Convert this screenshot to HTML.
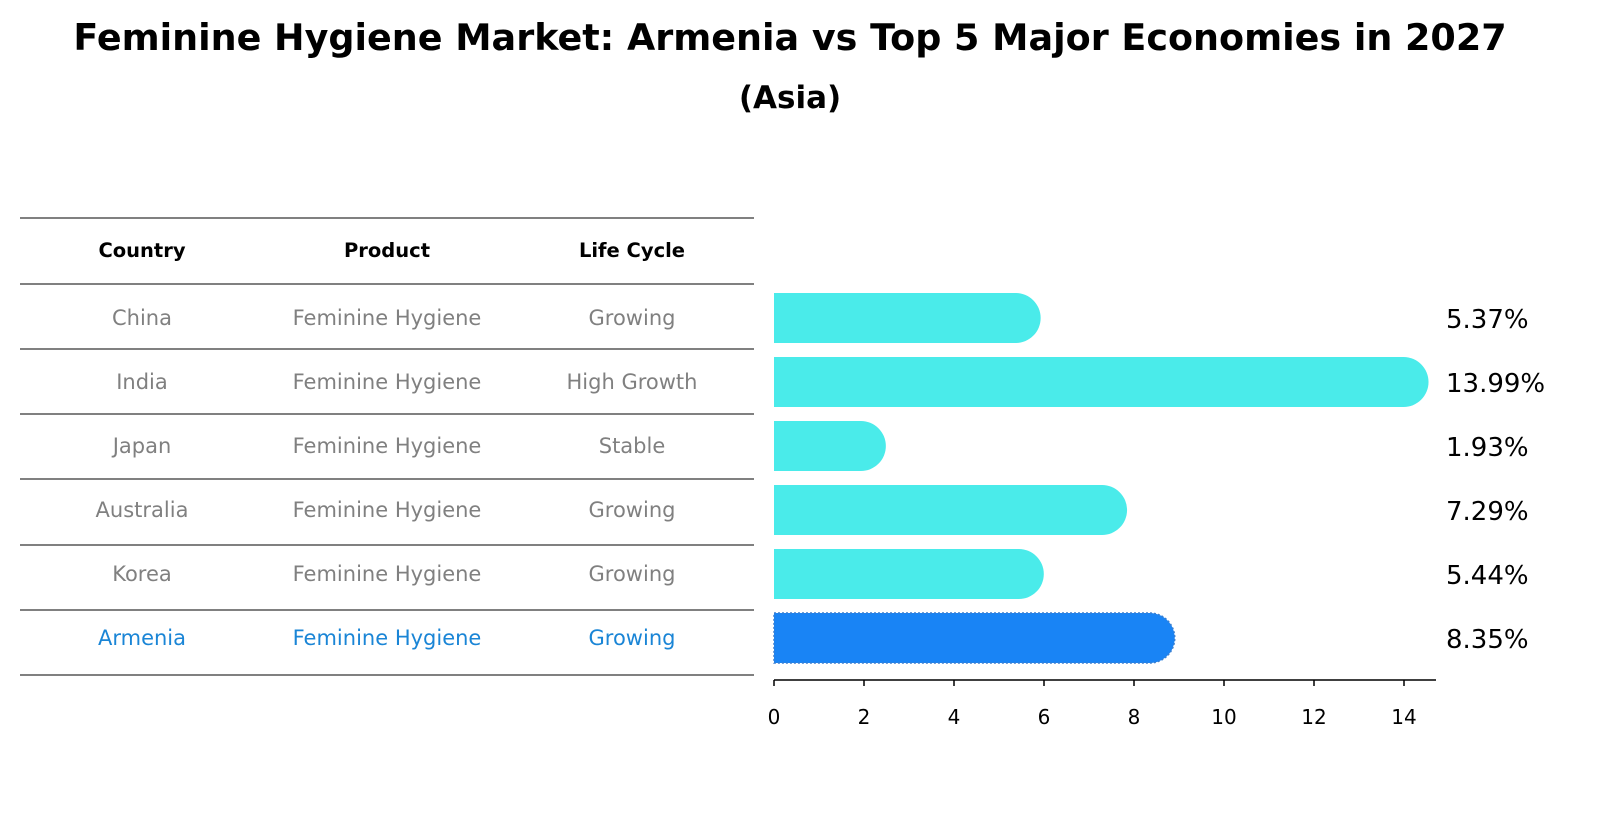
<!DOCTYPE html>
<html><head><meta charset="utf-8"><style>
html,body{margin:0;padding:0;background:#fff;overflow:hidden;width:1604px;height:823px;}
svg{display:block;font-family:"DejaVu Sans","Liberation Sans",sans-serif;}
</style></head><body>
<svg id="chart" width="1604" height="823" viewBox="0 0 1604 823">
<text x="790" y="50" text-anchor="middle" font-size="36.5" font-weight="bold">Feminine Hygiene Market: Armenia vs Top 5 Major Economies in 2027</text>
<text x="790" y="108" text-anchor="middle" font-size="31" font-weight="bold">(Asia)</text>
<g id="table"></g>
<g id="bars"></g>
<g id="xaxis"></g>
</svg>
<script>
const countries=["China","India","Japan","Australia","Korea","Armenia"];
const products=["Feminine Hygiene","Feminine Hygiene","Feminine Hygiene","Feminine Hygiene","Feminine Hygiene","Feminine Hygiene"];
const lifeCycles=["Growing","High Growth","Stable","Growing","Growing","Growing"];
const values=[5.37,13.99,1.93,7.29,5.44,8.35];
const xTicks=[0,2,4,6,8,10,12,14];
const NS="http://www.w3.org/2000/svg";
function mk(tag,attrs,parent,text){const e=document.createElementNS(NS,tag);for(const k in attrs)e.setAttribute(k,attrs[k]);if(text!==undefined)e.textContent=text;parent.appendChild(e);return e;}
const x0=774,pxPerUnit=45,axisY=680;
function xs(v){return x0+v*pxPerUnit;}
function yc(i){return 318+i*64;}
const table=document.getElementById('table');
const lineYs=[218,284,349,414,479,545,610,675];
lineYs.forEach((y,i)=>{const l=mk('line',{x1:20,x2:754,y1:y,y2:y,stroke:'#000','stroke-width':1},table);

});
const colX=[142,387,632];
["Country","Product","Life Cycle"].forEach((h,j)=>{const t=mk('text',{x:colX[j],y:257,'text-anchor':'middle','font-size':19.5,'font-weight':'bold'},table,h);

});
countries.forEach((c,i)=>{const y=yc(i)+5;const col=i===countries.length-1?'#1a85d6':'#808080';
[c,products[i],lifeCycles[i]].forEach((v,j)=>{const t=mk('text',{x:colX[j],y:y+2,'text-anchor':'middle','font-size':21,fill:col},table,v);

});});
const bars=document.getElementById('bars');
values.forEach((v,i)=>{const h=50,r=25,top=yc(i)-25,end=xs(v);const last=i===values.length-1;
const d=`M${x0},${top} H${end} A${r},${r} 0 0 1 ${end},${top+h} H${x0} Z`;
const p=mk('path',{d:d,fill:last?'#1984f5':'#4aebea',stroke:last?'#3a7fd0':'none','stroke-width':last?1.5:0,'stroke-dasharray':last?'2,2':''},bars);


const t=mk('text',{x:1446,y:yc(i)+10,'font-size':26},bars,v.toFixed(2)+'%');

});
const ax=document.getElementById('xaxis');
mk('line',{x1:x0,x2:1436,y1:axisY,y2:axisY,stroke:'#000','stroke-width':1.5},ax);
xTicks.forEach(v=>{mk('line',{x1:xs(v),x2:xs(v),y1:axisY,y2:axisY+6,stroke:'#000','stroke-width':1.5},ax);
const t=mk('text',{x:xs(v),y:724,'text-anchor':'middle','font-size':20},ax,String(v));

});
</script>
</body></html>
